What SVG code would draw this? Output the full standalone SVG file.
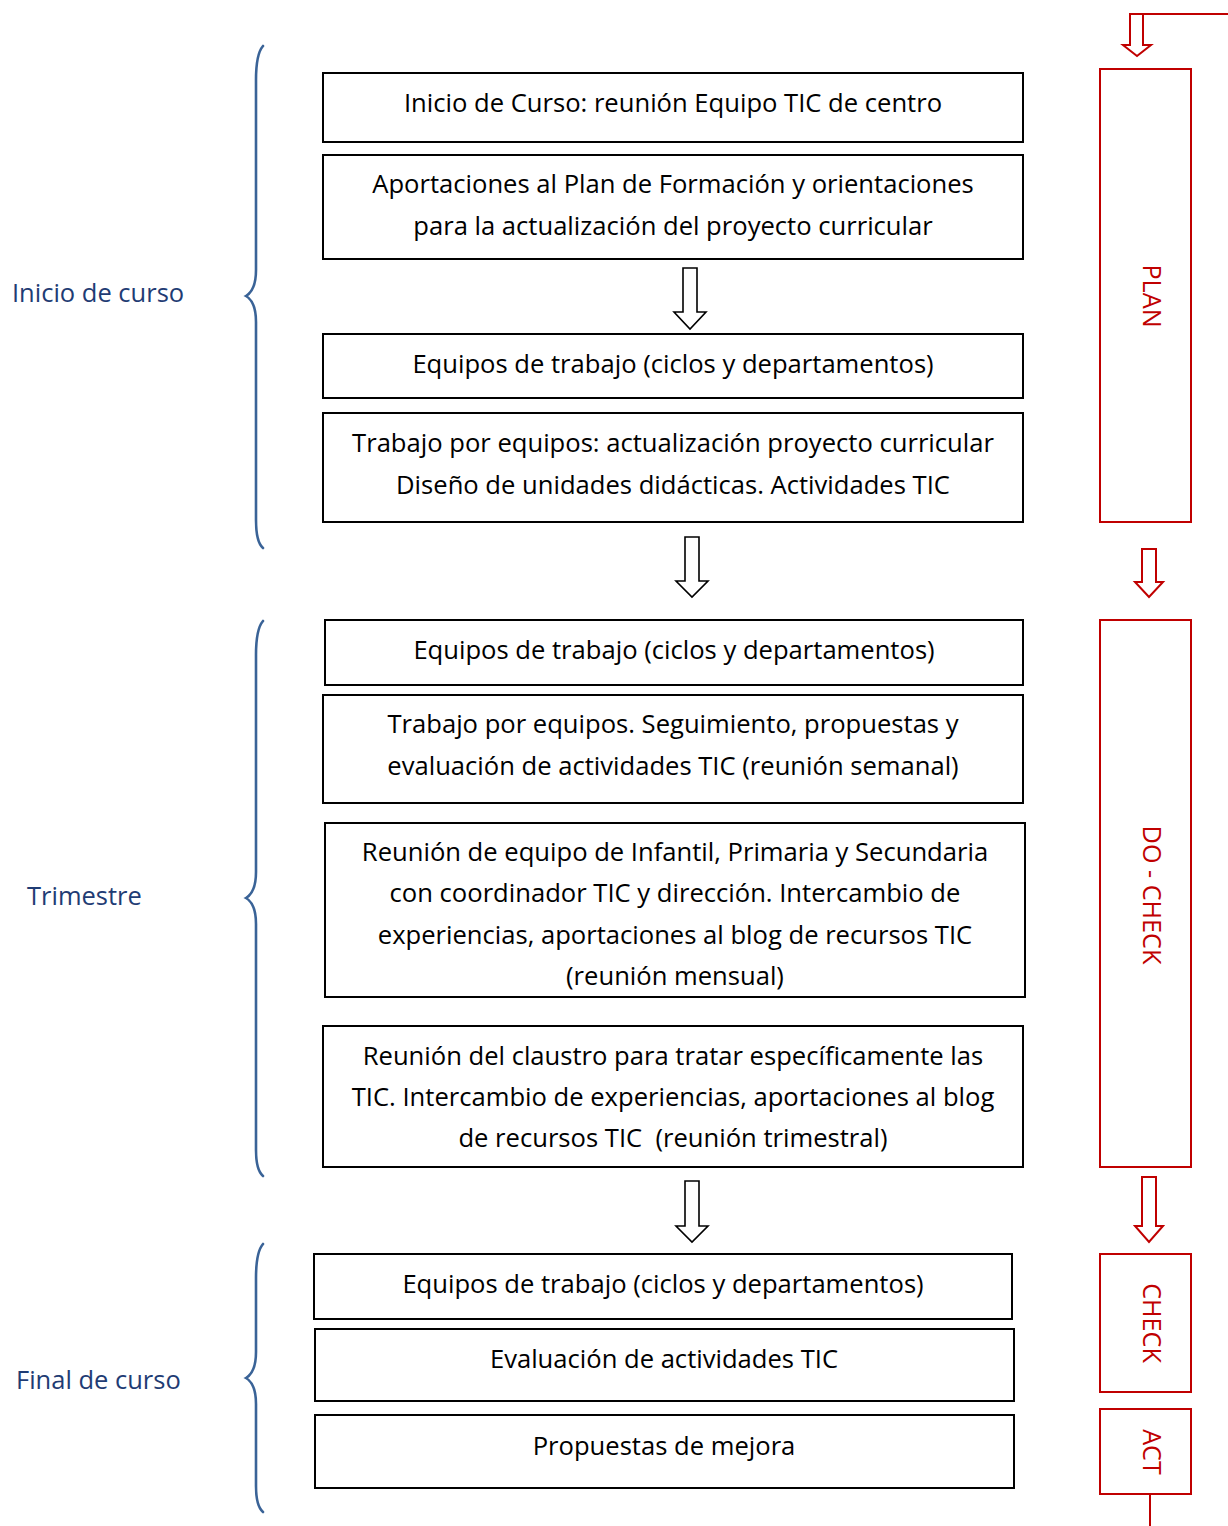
<svg xmlns="http://www.w3.org/2000/svg" width="1228" height="1526" viewBox="0 0 1228 1526">
<style>
.box{fill:#fff;stroke:#000;stroke-width:2}
.t{font-family:"Open Sans","Liberation Sans",sans-serif;font-size:25.6px;fill:#000;text-anchor:middle}
.rbox{fill:none;stroke:#C00000;stroke-width:2}
.rt{font-family:"Open Sans","Liberation Sans",sans-serif;font-size:25.2px;fill:#C00000;text-anchor:middle}
.lbl{font-family:"Open Sans","Liberation Sans",sans-serif;font-size:25.5px;fill:#1F3C74}
.brace{fill:none;stroke:#3A6397;stroke-width:2.6;stroke-linecap:round}
.barr{fill:#fff;stroke:#000;stroke-width:1.6;stroke-linejoin:miter}
.rarr{fill:#fff;stroke:#C00000;stroke-width:2;stroke-linejoin:miter}
.rline{fill:none;stroke:#C00000;stroke-width:2}
</style>
<rect width="1228" height="1526" fill="#fff"/>
<g id="labels">
<text class="lbl" x="12" y="302">Inicio de curso</text>
<text class="lbl" x="27" y="905">Trimestre</text>
<text class="lbl" x="16" y="1389">Final de curso</text>
</g>
<g id="braces">
<path class="brace" d="M263,46 Q256,54 256,80 L256,270 Q256,290 246,296 Q256,302 256,322 L256,520 Q256,542 263,548"/>
<path class="brace" d="M263,621 Q256,629 256,655 L256,872 Q256,892 246,898 Q256,904 256,924 L256,1150 Q256,1170 263,1176"/>
<path class="brace" d="M263,1244 Q256,1252 256,1278 L256,1352 Q256,1372 246,1378 Q256,1384 256,1404 L256,1486 Q256,1506 263,1512"/>
</g>
<g id="n1"><rect class="box" x="323" y="73" width="700" height="69"/><text class="t" x="673" y="112">Inicio de Curso: reunión Equipo TIC de centro</text></g>
<g id="n2"><rect class="box" x="323" y="155" width="700" height="104"/><text class="t" x="673" y="193">Aportaciones al Plan de Formación y orientaciones</text><text class="t" x="673" y="235">para la actualización del proyecto curricular</text></g>
<g id="n3"><rect class="box" x="323" y="334" width="700" height="64"/><text class="t" x="673" y="373">Equipos de trabajo (ciclos y departamentos)</text></g>
<g id="n4"><rect class="box" x="323" y="413" width="700" height="109"/><text class="t" x="673" y="452">Trabajo por equipos: actualización proyecto curricular</text><text class="t" x="673" y="494">Diseño de unidades didácticas. Actividades TIC</text></g>
<g id="n5"><rect class="box" x="325" y="620" width="698" height="65"/><text class="t" x="674" y="659">Equipos de trabajo (ciclos y departamentos)</text></g>
<g id="n6"><rect class="box" x="323" y="695" width="700" height="108"/><text class="t" x="673" y="733">Trabajo por equipos. Seguimiento, propuestas y</text><text class="t" x="673" y="775">evaluación de actividades TIC (reunión semanal)</text></g>
<g id="n7"><rect class="box" x="325" y="823" width="700" height="174"/><text class="t" x="675" y="861">Reunión de equipo de Infantil, Primaria y Secundaria</text><text class="t" x="675" y="902">con coordinador TIC y dirección. Intercambio de</text><text class="t" x="675" y="944">experiencias, aportaciones al blog de recursos TIC</text><text class="t" x="675" y="985">(reunión mensual)</text></g>
<g id="n8"><rect class="box" x="323" y="1026" width="700" height="141"/><text class="t" x="673" y="1065">Reunión del claustro para tratar específicamente las</text><text class="t" x="673" y="1106">TIC. Intercambio de experiencias, aportaciones al blog</text><text class="t" x="673" y="1147" xml:space="preserve">de recursos TIC  (reunión trimestral)</text></g>
<g id="n9"><rect class="box" x="314" y="1254" width="698" height="65"/><text class="t" x="663" y="1293">Equipos de trabajo (ciclos y departamentos)</text></g>
<g id="n10"><rect class="box" x="315" y="1329" width="699" height="72"/><text class="t" x="664" y="1368">Evaluación de actividades TIC</text></g>
<g id="n11"><rect class="box" x="315" y="1415" width="699" height="73"/><text class="t" x="664" y="1455">Propuestas de mejora</text></g>
<g id="plan"><rect class="rbox" x="1100" y="69" width="91" height="453"/><text class="rt" transform="translate(1143,296) rotate(90)">PLAN</text></g>
<g id="docheck"><rect class="rbox" x="1100" y="620" width="91" height="547"/><text class="rt" transform="translate(1143,895) rotate(90)">DO - CHECK</text></g>
<g id="check"><rect class="rbox" x="1100" y="1254" width="91" height="138"/><text class="rt" transform="translate(1143,1323) rotate(90)">CHECK</text></g>
<g id="act"><rect class="rbox" x="1100" y="1409" width="91" height="85"/><text class="rt" transform="translate(1143,1452) rotate(90)">ACT</text></g>
<g id="connectors">
<path class="barr" d="M683,268 L697,268 L697,312 L706,312 L690,329 L674,312 L683,312 Z"/>
<path class="barr" d="M685,537 L699,537 L699,581 L708,581 L692,597 L676,581 L685,581 Z"/>
<path class="barr" d="M685,1181 L699,1181 L699,1226 L708,1226 L692,1242 L676,1226 L685,1226 Z"/>
<path class="rline" d="M1228,14 L1143,14"/>
<path class="rarr" d="M1130,14 L1143,14 L1143,45 L1151,45 L1137,56 L1123,45 L1130,45 Z"/>
<path class="rarr" d="M1142,549 L1156,549 L1156,582 L1163,582 L1149,597 L1135,582 L1142,582 Z"/>
<path class="rarr" d="M1142,1177 L1156,1177 L1156,1226 L1163,1226 L1149,1242 L1135,1226 L1142,1226 Z"/>
<path class="rline" d="M1150,1494 L1150,1526"/>
</g>
</svg>
